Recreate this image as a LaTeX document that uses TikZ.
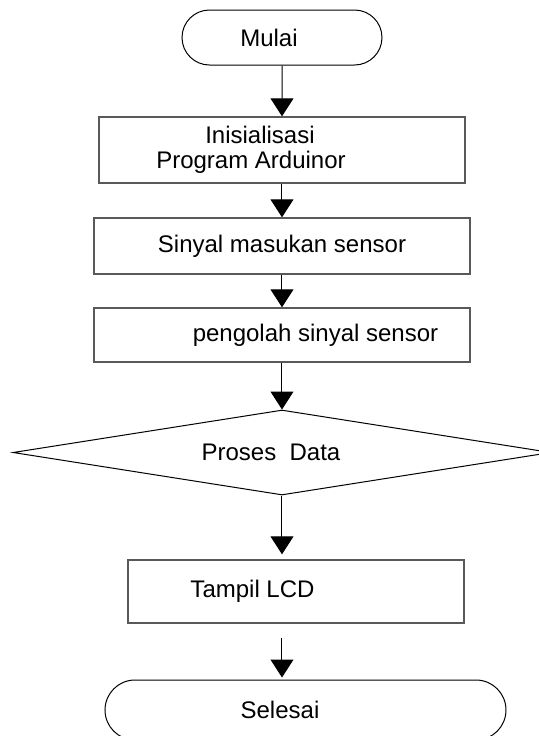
\documentclass[tikz,border=0pt]{standalone}
\usepackage{fontspec}
\setmainfont{Liberation Sans}
\usetikzlibrary{positioning,arrows.meta,shapes.geometric,shapes.misc}
\newcommand{\nudge}[2]{\hspace*{#1}#2\hspace*{-#1}}

\begin{document}
\begin{tikzpicture}[
    x=0.5pt, y=-0.5pt,
    every node/.style={font=\fontsize{12}{12.5}\selectfont},
    term/.style={draw, rounded rectangle, line width=0.5pt, inner sep=0pt},
    box/.style={draw=black!65, line width=0.7pt, rectangle, inner sep=0pt, align=center},
    decision/.style={draw, diamond, shape aspect=6.3, line width=0.5pt, inner sep=0pt},
    arrow/.style={-{Triangle[width=11.5pt,length=9pt]}, line width=0.5pt}
]
    \useasboundingbox (0,0) rectangle (538,736);

    \node[term, minimum width=100pt, minimum height=27.5pt] (mulai) at (282,37.5) {\nudge{-6.5pt}{Mulai}};
    \node[box, minimum width=183pt, minimum height=33pt] (init) at (282,150) {\nudge{-11pt}{Inisialisasi}\\\nudge{-15.5pt}{Program Arduinor}};
    \node[box, minimum width=188pt, minimum height=28pt] (masuk) at (282,246) {Sinyal masukan sensor};
    \node[box, minimum width=188pt, minimum height=27pt] (olah) at (282,335) {\nudge{16.75pt}{pengolah sinyal sensor}};
    \node[decision, minimum width=269pt, minimum height=42.5pt] (proses) at (282,452.5) {\nudge{-5.5pt}{Proses\ \ Data}};
    \node[box, minimum width=168pt, minimum height=31.5pt] (lcd) at (296,591.5) {\nudge{-21.75pt}{\raisebox{-3pt}{Tampil LCD}}};
    \node[term, minimum width=200.5pt, minimum height=30pt] (selesai) at (305.5,710) {\nudge{-12.75pt}{Selesai}};

    \draw[arrow] (mulai) -- (init);
    \draw[arrow] (init) -- (masuk);
    \draw[arrow] (masuk) -- (olah);
    \draw[arrow] (olah) -- (proses);
    \draw[arrow, shorten >=2.5pt] (proses.south) -- (proses.south |- lcd.north);
    \draw[arrow, shorten <=7pt, shorten >=1pt] (proses.south |- lcd.south) -- (proses.south |- selesai.north);
\end{tikzpicture}
\end{document}
